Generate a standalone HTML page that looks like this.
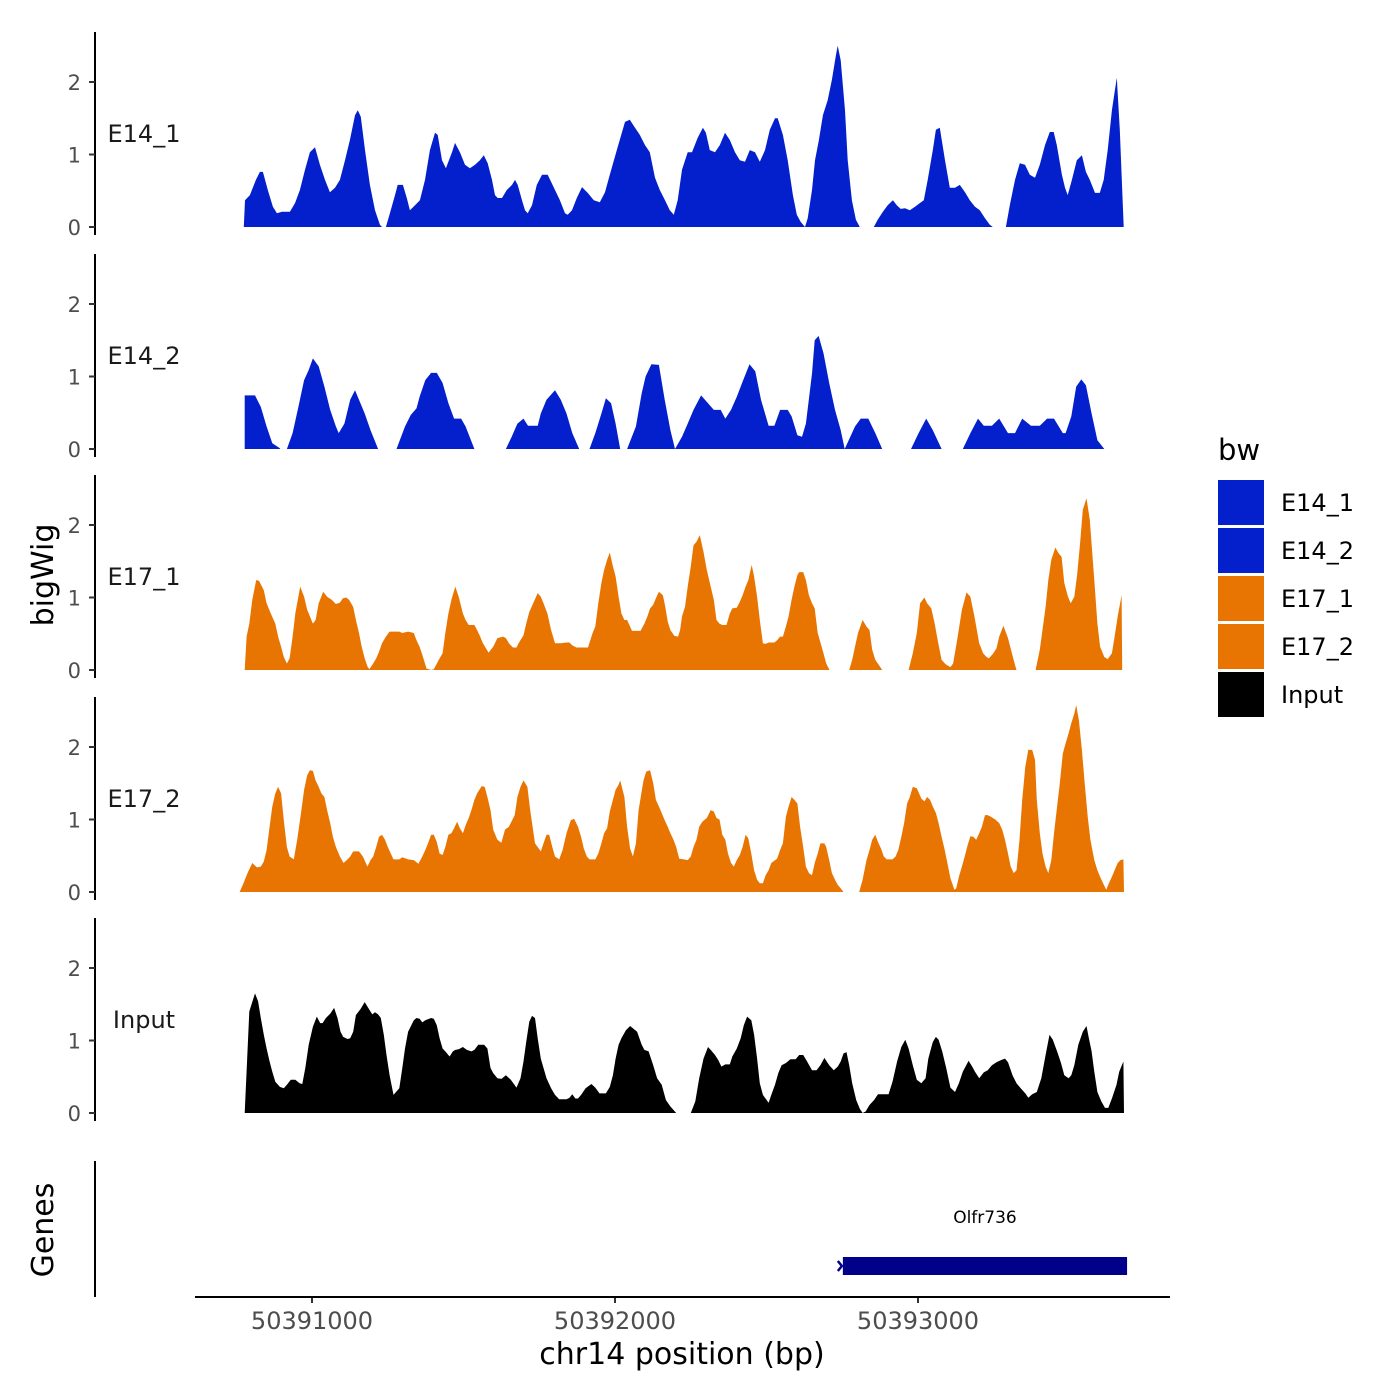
<!DOCTYPE html>
<html><head><meta charset="utf-8"><style>
html,body{margin:0;padding:0;background:#fff;}
svg{display:block;font-family:"DejaVu Sans","Liberation Sans",sans-serif;}
</style></head><body>
<svg id="chart" width="1400" height="1400" viewBox="0 0 1400 1400" xmlns="http://www.w3.org/2000/svg">
<rect width="1400" height="1400" fill="#fff"/>
<g id="tracks"></g>
<g id="axes"></g>
<text x="0" y="0" transform="translate(53,575) rotate(-90)" text-anchor="middle" font-size="30" fill="#000">bigWig</text>
<text x="0" y="0" transform="translate(53,1230) rotate(-90)" text-anchor="middle" font-size="30" fill="#000">Genes</text>
<line x1="95" y1="1161" x2="95" y2="1297" stroke="#000" stroke-width="2"/>
<line x1="195" y1="1297" x2="1170" y2="1297" stroke="#000" stroke-width="2"/>
<text x="682" y="1364" text-anchor="middle" font-size="30" fill="#000">chr14 position (bp)</text>
<g id="genes"></g>
<g>
<text x="1218" y="460" font-size="29" fill="#000">bw</text>
<rect x="1218" y="480" width="46" height="45" fill="#0420CC"/>
<text x="1281" y="511" font-size="24">E14_1</text>
<rect x="1218" y="528" width="46" height="45" fill="#0420CC"/>
<text x="1281" y="559" font-size="24">E14_2</text>
<rect x="1218" y="576" width="46" height="45" fill="#E87502"/>
<text x="1281" y="607" font-size="24">E17_1</text>
<rect x="1218" y="624" width="46" height="45" fill="#E87502"/>
<text x="1281" y="655" font-size="24">E17_2</text>
<rect x="1218" y="672" width="46" height="45" fill="#000"/>
<text x="1281" y="703" font-size="24">Input</text>
</g>
</svg>
<script>
const chromStart = 50389980;
const xTicks = [50391000, 50392000, 50393000];
const yTicks = [0, 1, 2];
const trackNames = ["E14_1", "E14_2", "E17_1", "E17_2", "Input"];

const posE14_1 = [795,799,815,835,848,858,874,891,904,921,947,964,980,997,1013,1030,1046,1063,1079,1096,1112,1129,1145,1162,1171,1181,1195,1211,1228,1244,1251,null,
1264,1277,1294,1303,1320,1333,1343,1360,1376,1393,1409,1426,1435,1449,1462,1482,1492,1508,1525,1541,1558,1574,1587,1600,1614,1624,1633,1647,1663,1680,1690,1699,1713,1723,1732,1746,1762,1779,1798,1822,1838,1855,1864,1878,1894,1911,1930,1950,1970,1987,2003,2026,2053,2069,2086,2102,2119,2135,2152,2168,2185,2201,2214,2227,2241,2260,2274,2293,2310,2320,2333,2350,2366,2383,2399,2416,2432,2449,2465,2482,2498,2515,2531,2548,2557,2574,2590,2607,2620,2633,2647,2656,2670,2680,2693,2706,2722,2736,2749,2755,2765,2779,2788,2802,2815,2828,null,
2874,2887,2904,2920,2937,2950,2963,2977,2993,3010,3026,3039,3052,3069,3079,3092,3109,3125,3142,3158,3175,3191,3208,3224,3241,3257,3267,null,
3310,3323,3340,3356,3373,3389,3406,3422,3439,3455,3468,3478,3495,3505,3514,3528,3544,3561,3574,3587,3604,3620,3633,3646,3660,3676,3686,3699];
const valE14_1 = [0,0.37,0.44,0.65,0.76,0.76,0.51,0.28,0.19,0.21,0.21,0.33,0.51,0.79,1.03,1.10,0.86,0.65,0.48,0.54,0.65,0.92,1.20,1.54,1.61,1.52,1.06,0.58,0.23,0.03,0,null,
0,0.19,0.44,0.58,0.58,0.40,0.23,0.30,0.37,0.65,1.06,1.30,1.27,0.92,0.81,1.03,1.16,1.03,0.86,0.81,0.86,0.92,0.99,0.88,0.65,0.44,0.40,0.40,0.51,0.58,0.65,0.58,0.37,0.23,0.19,0.30,0.58,0.72,0.72,0.51,0.37,0.19,0.17,0.23,0.40,0.55,0.47,0.37,0.34,0.48,0.72,1.06,1.45,1.48,1.37,1.27,1.13,1.03,0.68,0.51,0.37,0.23,0.17,0.37,0.79,1.03,1.03,1.23,1.37,1.30,1.06,1.03,1.13,1.30,1.20,1.03,0.92,0.90,1.06,1.03,0.90,1.06,1.34,1.50,1.50,1.27,0.92,0.44,0.17,0.07,0,0.12,0.51,0.92,1.20,1.54,1.75,2.03,2.37,2.50,2.30,1.61,0.92,0.37,0.10,0,null,
0,0.10,0.21,0.30,0.37,0.30,0.25,0.26,0.23,0.28,0.33,0.37,0.65,1.06,1.34,1.37,0.92,0.54,0.54,0.58,0.48,0.37,0.28,0.23,0.12,0.03,0,null,
0,0.30,0.65,0.88,0.86,0.72,0.68,0.86,1.13,1.31,1.31,1.13,0.72,0.54,0.44,0.65,0.92,0.99,0.76,0.65,0.47,0.47,0.65,1.06,1.61,2.06,1.34,0];

const posE14_2 = [798,798,832,851,870,889,914,null,
937,956,975,994,1009,1023,1042,1061,1080,1099,1108,1127,1146,1162,1175,1194,1213,1238,null,
1299,1327,1346,1365,1375,1394,1413,1432,1451,1470,1489,1512,1527,1556,null,
1660,1679,1698,1718,1733,1765,1775,1794,1822,1841,1860,1879,1902,null,
1936,1955,1975,1990,2007,2022,2037,null,
2060,2089,2108,2121,2140,2165,2184,2203,2218,2241,2260,2279,2304,2323,2346,2369,2384,2403,2422,2441,2464,2483,2502,2527,2546,2565,2590,2603,2622,2637,2650,2670,2679,2692,2708,2727,2746,2765,2778,2812,2831,2856,2879,2902,null,
2997,3022,3047,3069,3098,null,
3168,3193,3218,3237,3264,3288,3317,3340,3364,3393,3422,3446,3469,3498,3507,3526,3542,3559,3574,3593,3612,3635];
const valE14_2 = [0,0.74,0.74,0.58,0.31,0.08,0.01,null,
0,0.22,0.58,0.95,1.09,1.25,1.14,0.86,0.54,0.31,0.22,0.35,0.68,0.81,0.68,0.49,0.26,0,null,
0,0.31,0.47,0.56,0.72,0.95,1.05,1.05,0.91,0.63,0.42,0.42,0.31,0,null,
0,0.17,0.35,0.42,0.32,0.32,0.49,0.68,0.81,0.68,0.49,0.22,0,null,
0,0.22,0.49,0.70,0.63,0.35,0,null,
0,0.31,0.77,1.00,1.17,1.16,0.68,0.26,0,0.17,0.35,0.54,0.74,0.65,0.54,0.54,0.42,0.54,0.72,0.93,1.17,1.07,0.68,0.32,0.32,0.54,0.54,0.45,0.19,0.17,0.35,1.04,1.50,1.56,1.32,0.91,0.54,0.26,0,0.31,0.42,0.42,0.22,0,null,
0,0.22,0.42,0.26,0,null,
0,0.22,0.42,0.32,0.32,0.42,0.22,0.22,0.42,0.32,0.32,0.42,0.42,0.22,0.22,0.45,0.86,0.96,0.88,0.49,0.12,0];

const posE17_1 = [798,804,813,823,836,845,861,870,884,899,908,918,927,937,946,956,965,981,994,1004,1013,1023,1032,1042,1057,1070,1085,1099,1112,1122,1133,1142,1156,1165,1175,1184,1194,1203,1209,1222,1232,1241,1251,1264,1276,1308,1318,1337,1356,1365,1375,1384,1398,1413,1422,1441,1451,1460,1470,1480,1493,1504,1518,1527,1537,1556,1565,1575,1584,1603,1618,1632,1651,1660,1670,1683,1695,1702,1718,1727,1737,1752,1765,1775,1784,1797,1809,1822,1841,1860,1870,1879,1893,1931,1946,1955,1965,1975,1984,1994,2003,2013,2022,2032,2041,2051,2060,2076,2104,2117,2127,2136,2146,2155,2165,2178,2186,2194,2203,2216,2228,2235,2241,2251,2260,2270,2279,2289,2300,2312,2323,2336,2346,2355,2365,2374,2388,2399,2407,2422,2432,2441,2451,2460,2471,2479,2489,2498,2508,2517,2527,2546,2555,2565,2574,2584,2593,2603,2612,2622,2628,2641,2650,2660,2670,2679,2689,2708,2717,2727,null,
2793,2803,2812,2822,2837,2850,2860,2869,2879,2894,2902,null,
2989,3003,3016,3027,3041,3050,3064,3075,3085,3098,3111,3127,3136,3149,3165,3180,3193,3206,3222,3235,3246,3254,3269,3279,3288,3302,3317,3330,3340,3345,null,
3408,3422,3441,3450,3460,3473,3484,3494,3503,3515,3524,3536,3545,3555,3564,3576,3587,3602,3612,3621,3635,3646,3660,3669,3679,3692,3694];
const valE17_1 = [0,0.46,0.64,0.97,1.24,1.23,1.10,0.92,0.78,0.64,0.46,0.32,0.18,0.09,0.16,0.46,0.78,1.15,1.01,0.83,0.74,0.64,0.69,0.92,1.08,1.01,0.97,0.91,0.93,0.99,1.00,0.97,0.87,0.69,0.51,0.32,0.16,0.05,0.01,0.09,0.16,0.25,0.37,0.46,0.53,0.53,0.51,0.53,0.51,0.41,0.32,0.21,0.02,0,0.01,0.16,0.23,0.51,0.78,0.97,1.15,1.01,0.78,0.69,0.62,0.62,0.55,0.46,0.37,0.24,0.32,0.44,0.46,0.44,0.37,0.31,0.31,0.37,0.48,0.64,0.80,0.94,1.06,1.01,0.92,0.78,0.55,0.37,0.37,0.38,0.38,0.34,0.31,0.31,0.51,0.60,0.92,1.20,1.38,1.52,1.62,1.43,1.29,1.01,0.78,0.69,0.69,0.54,0.54,0.64,0.74,0.85,0.90,0.99,1.08,1.03,0.87,0.67,0.55,0.47,0.46,0.55,0.74,0.87,1.15,1.43,1.72,1.77,1.86,1.63,1.38,1.15,0.97,0.69,0.64,0.62,0.62,0.78,0.85,0.86,0.94,1.03,1.15,1.24,1.45,1.29,1.01,0.69,0.37,0.36,0.38,0.38,0.41,0.46,0.46,0.60,0.74,0.97,1.15,1.31,1.35,1.35,1.24,1.03,0.92,0.85,0.51,0.23,0.09,0.01,null,
0,0.14,0.32,0.51,0.69,0.60,0.55,0.28,0.14,0.05,0,null,
0,0.23,0.51,0.92,1.00,0.92,0.85,0.64,0.41,0.14,0.08,0.04,0.09,0.41,0.83,1.07,1.01,0.74,0.37,0.23,0.18,0.16,0.23,0.30,0.46,0.61,0.44,0.23,0.07,0,null,
0,0.28,0.87,1.24,1.52,1.69,1.61,1.56,1.20,1.01,0.92,1.01,1.31,1.75,2.21,2.37,2.07,1.24,0.64,0.32,0.18,0.15,0.23,0.46,0.74,1.03,0];

const posE17_2 = [781,794,807,823,838,851,861,870,880,889,899,908,918,927,937,946,960,971,985,994,1004,1013,1023,1032,1042,1051,1061,1070,1080,1089,1099,1112,1124,1137,1146,1156,1175,1188,1203,1213,1222,1232,1241,1251,1261,1270,1280,1289,1308,1318,1337,1356,1371,1384,1394,1403,1413,1422,1432,1441,1451,1460,1470,1480,1489,1499,1508,1518,1527,1537,1546,1556,1565,1580,1590,1599,1609,1618,1632,1645,1657,1670,1689,1698,1708,1718,1731,1740,1756,1775,1784,1794,1803,1813,1822,1836,1847,1860,1874,1885,1898,1908,1917,1927,1936,1955,1965,1975,1984,1994,2003,2013,2022,2032,2037,2051,2060,2070,2079,2089,2098,2114,2123,2136,2146,2155,2165,2174,2184,2194,2203,2213,2222,2232,2247,2260,2270,2279,2289,2298,2308,2323,2336,2346,2355,2365,2374,2384,2393,2403,2412,2422,2432,2441,2451,2460,2470,2479,2489,2498,2508,2517,2527,2536,2555,2565,2574,2584,2593,2603,2612,2622,2631,2641,2650,2660,2670,2679,2689,2698,2711,2717,2727,2736,2746,2755,2765,2774,null,
2826,2837,2850,2860,2869,2879,2888,2898,2907,2917,2936,2946,2955,2965,2974,2984,2993,3003,3016,3031,3041,3050,3060,3069,3079,3088,3098,3107,3117,3127,3140,3146,3155,3165,3174,3184,3193,3203,3212,3222,3231,3241,3250,3260,3275,3288,3298,3307,3317,3326,3336,3345,3355,3364,3374,3384,3397,3406,3412,3422,3431,3441,3450,3460,3469,3479,3488,3498,3507,3517,3526,3536,3542,3551,3561,3570,3580,3589,3602,3612,3621,3631,3641,3650,3660,3669,3679,3688,3698,3700];
const valE17_2 = [0,0.12,0.26,0.40,0.34,0.35,0.42,0.58,0.90,1.18,1.36,1.45,1.36,0.99,0.62,0.49,0.45,0.72,1.13,1.41,1.61,1.68,1.67,1.54,1.45,1.36,1.31,1.13,0.95,0.76,0.62,0.49,0.40,0.45,0.49,0.56,0.56,0.49,0.35,0.44,0.49,0.62,0.76,0.79,0.72,0.62,0.53,0.45,0.45,0.48,0.45,0.44,0.39,0.49,0.58,0.67,0.79,0.79,0.69,0.53,0.51,0.62,0.79,0.81,0.88,0.97,0.88,0.81,0.92,1.02,1.13,1.27,1.36,1.46,1.45,1.31,1.13,0.86,0.72,0.68,0.86,0.90,1.06,1.31,1.45,1.54,1.45,1.13,0.67,0.56,0.67,0.79,0.79,0.62,0.49,0.45,0.58,0.81,0.99,1.01,0.90,0.76,0.60,0.49,0.45,0.45,0.53,0.67,0.81,0.88,1.11,1.27,1.41,1.48,1.54,1.31,0.90,0.60,0.49,0.67,1.13,1.54,1.66,1.68,1.50,1.27,1.18,1.09,0.99,0.90,0.81,0.72,0.62,0.46,0.45,0.44,0.49,0.62,0.72,0.90,0.97,1.02,1.13,1.11,1.02,1.00,0.79,0.72,0.53,0.40,0.35,0.44,0.51,0.62,0.79,0.74,0.53,0.30,0.17,0.12,0.12,0.23,0.30,0.40,0.46,0.58,0.67,1.04,1.18,1.31,1.27,1.22,0.90,0.62,0.35,0.26,0.23,0.40,0.53,0.67,0.67,0.62,0.44,0.26,0.17,0.10,0.05,0,null,
0,0.17,0.44,0.58,0.72,0.79,0.69,0.60,0.49,0.45,0.45,0.49,0.58,0.76,0.95,1.22,1.31,1.45,1.43,1.29,1.25,1.31,1.27,1.18,1.09,0.95,0.76,0.60,0.40,0.19,0.03,0.05,0.21,0.35,0.49,0.65,0.77,0.76,0.72,0.81,0.90,1.06,1.06,1.04,1.00,0.95,0.86,0.72,0.53,0.35,0.26,0.30,0.72,1.27,1.73,1.96,1.96,1.82,1.27,0.81,0.53,0.35,0.26,0.44,0.81,1.18,1.50,1.91,2.05,2.19,2.33,2.46,2.58,2.37,1.96,1.50,1.04,0.72,0.44,0.30,0.21,0.12,0.03,0.12,0.21,0.30,0.40,0.44,0.45,0];

const posInput = [798,813,832,842,851,861,870,880,889,899,914,927,937,950,965,979,988,998,1009,1023,1036,1047,1055,1066,1080,1093,1104,1114,1123,1137,1146,1156,1165,1181,1194,1207,1219,1228,1238,1247,1257,1266,1276,1289,1308,1318,1327,1337,1356,1365,1375,1384,1394,1413,1422,1432,1441,1451,1460,1474,1485,1493,1504,1518,1531,1546,1556,1569,1588,1599,1609,1618,1632,1645,1660,1676,1695,1708,1718,1727,1737,1746,1756,1765,1775,1794,1809,1822,1836,1860,1870,1879,1889,1898,1908,1923,1942,1955,1969,1990,2003,2013,2022,2032,2041,2056,2070,2079,2093,2108,2117,2131,2146,2159,2174,2188,2203,2222,null,
2270,2285,2298,2312,2327,2336,2350,2361,2371,2384,2399,2407,2422,2435,2445,2456,2470,2479,2489,2498,2508,2527,2536,2548,2559,2570,2584,2599,2616,2628,2641,2654,2670,2685,2698,2711,2727,2742,2755,2765,2774,2784,2793,2803,2816,2828,2837,2847,2860,2875,2888,2923,2936,2951,2965,2978,2989,3003,3016,3031,3045,3054,3069,3079,3088,3100,3113,3127,3142,3155,3168,3187,3199,3208,3222,3237,3250,3264,3279,3294,3307,3317,3332,3345,3359,3374,3384,3397,3412,3427,3441,3454,3465,3479,3492,3503,3517,3526,3536,3549,3564,3576,3583,3593,3602,3612,3625,3637,3648,3660,3675,3684,3698,3700];
const valInput = [0,1.40,1.65,1.54,1.31,1.08,0.89,0.71,0.57,0.43,0.36,0.34,0.39,0.46,0.46,0.41,0.40,0.62,0.94,1.19,1.33,1.24,1.24,1.31,1.37,1.45,1.31,1.12,1.05,1.02,1.03,1.12,1.35,1.44,1.53,1.44,1.36,1.39,1.36,1.31,1.08,0.80,0.52,0.25,0.34,0.62,0.89,1.12,1.28,1.31,1.30,1.25,1.28,1.31,1.30,1.21,1.03,0.89,0.85,0.78,0.85,0.87,0.88,0.91,0.87,0.85,0.87,0.94,0.94,0.89,0.62,0.55,0.48,0.47,0.52,0.46,0.35,0.48,0.71,0.98,1.26,1.34,1.31,1.03,0.75,0.48,0.34,0.25,0.19,0.19,0.21,0.26,0.20,0.20,0.25,0.34,0.40,0.35,0.27,0.27,0.36,0.52,0.75,0.94,1.03,1.14,1.20,1.17,1.12,0.94,0.87,0.85,0.66,0.48,0.39,0.18,0.09,0,null,
0,0.16,0.48,0.75,0.91,0.87,0.80,0.73,0.64,0.67,0.67,0.78,0.89,1.03,1.21,1.33,1.28,1.08,0.75,0.41,0.25,0.14,0.25,0.39,0.55,0.66,0.69,0.74,0.74,0.80,0.80,0.71,0.59,0.59,0.66,0.76,0.66,0.59,0.64,0.71,0.82,0.84,0.66,0.41,0.18,0.06,0,0.02,0.11,0.18,0.26,0.26,0.43,0.71,0.91,1.01,0.89,0.66,0.46,0.41,0.48,0.75,0.98,1.05,1.01,0.85,0.62,0.35,0.29,0.41,0.57,0.72,0.64,0.57,0.48,0.56,0.59,0.66,0.70,0.73,0.75,0.70,0.52,0.41,0.34,0.27,0.21,0.26,0.29,0.48,0.80,1.08,1.01,0.85,0.69,0.52,0.48,0.52,0.66,0.94,1.12,1.20,1.05,0.85,0.57,0.29,0.16,0.07,0.07,0.20,0.39,0.57,0.71,0];

const geneNames = ["Olfr736"];
const geneStarts = [50392752];
const geneEnds = [50393690];

const NS = "http://www.w3.org/2000/svg";
const trackPos = [posE14_1, posE14_2, posE17_1, posE17_2, posInput];
const trackVal = [valE14_1, valE14_2, valE17_1, valE17_2, valInput];
const trackColor = ["#0420CC", "#0420CC", "#E87502", "#E87502", "#000000"];
const baselines = [227, 449, 670, 892, 1113];
const unitPx = 72.5;

function xScale(bp) { return 312 + (bp - 50391000) * 0.303; }
function yScale(v, t) { return baselines[t] - v * unitPx; }
function mk(tag, attrs) {
  const e = document.createElementNS(NS, tag);
  for (const k in attrs) e.setAttribute(k, attrs[k]);
  return e;
}

const tracksG = document.getElementById("tracks");
const axesG = document.getElementById("axes");

for (let t = 0; t < trackNames.length; t++) {
  const pos = trackPos[t], val = trackVal[t];
  let segs = [], cur = [];
  for (let i = 0; i < pos.length; i++) {
    if (pos[i] === null) { if (cur.length) segs.push(cur); cur = []; }
    else cur.push([chromStart + pos[i], val[i]]);
  }
  if (cur.length) segs.push(cur);
  segs.forEach(function (s) {
    let d = "M" + xScale(s[0][0]).toFixed(1) + "," + yScale(0, t);
    s.forEach(function (p) { d += "L" + xScale(p[0]).toFixed(1) + "," + yScale(p[1], t).toFixed(1); });
    d += "L" + xScale(s[s.length - 1][0]).toFixed(1) + "," + yScale(0, t) + "Z";
    const path = mk("path", { d: d, fill: trackColor[t] });
    
    
    tracksG.appendChild(path);
  });
  const line = mk("line", { x1: 95, y1: baselines[t] - 195, x2: 95, y2: baselines[t] + 8, stroke: "#000", "stroke-width": 2 });
  
  
  axesG.appendChild(line);
  yTicks.forEach(function (v) {
    const y = yScale(v, t);
    const tk = mk("line", { x1: 89, y1: y, x2: 95, y2: y, stroke: "#333", "stroke-width": 2 });
    
    
    axesG.appendChild(tk);
    const lb = mk("text", { x: 81, y: y + 8, "text-anchor": "end", "font-size": 21, fill: "#4d4d4d" });
    
    
    lb.textContent = v;
    axesG.appendChild(lb);
  });
  const nm = mk("text", { x: 144, y: yScale(1.3, t) + 9, "text-anchor": "middle", "font-size": 24, fill: "#1a1a1a" });
  
  
  nm.textContent = trackNames[t];
  axesG.appendChild(nm);
}

xTicks.forEach(function (b) {
  const x = xScale(b);
  const tk = mk("line", { x1: x, y1: 1297, x2: x, y2: 1303, stroke: "#333", "stroke-width": 2 });
  
  
  axesG.appendChild(tk);
  const lb = mk("text", { x: x, y: 1329, "text-anchor": "middle", "font-size": 24, fill: "#4d4d4d" });
  
  
  lb.textContent = b;
  axesG.appendChild(lb);
});

const genesG = document.getElementById("genes");
geneNames.forEach(function (g, i) {
  const x0 = xScale(geneStarts[i]), x1 = xScale(geneEnds[i]);
  const bar = mk("rect", { x: x0, y: 1257, width: x1 - x0, height: 18, fill: "#00008B" });
  
  
  genesG.appendChild(bar);
  const ar = mk("path", { d: "M" + (x0 - 5) + ",1261L" + (x0 - 1) + ",1266L" + (x0 - 5) + ",1271", stroke: "#00008B", "stroke-width": 2.5, fill: "none" });
  
  
  genesG.appendChild(ar);
  const lb = mk("text", { x: (x0 + x1) / 2, y: 1223, "text-anchor": "middle", "font-size": 17, fill: "#000" });
  
  
  lb.textContent = g;
  genesG.appendChild(lb);
});
</script>
</body></html>
